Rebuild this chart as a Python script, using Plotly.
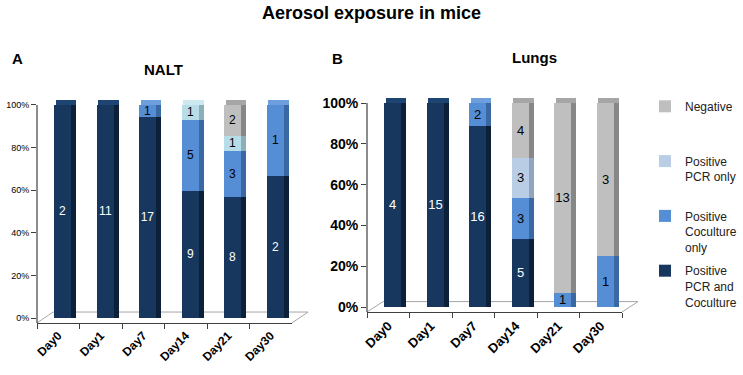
import plotly.graph_objects as go

days = ["Day0", "Day1", "Day7", "Day14", "Day21", "Day30"]
series_names = ["Positive<br>PCR and<br>Coculture", "Positive<br>Coculture<br>only",
                "Positive<br>PCR only<br> ", "Negative<br> <br> "]

# Panel A: NALT (counts)
nalt_pcr_cocult = [2, 11, 17, 9, 8, 2]
nalt_cocult_only = [0, 0, 1, 5, 3, 1]
nalt_pcr_only = [0, 0, 0, 1, 1, 0]
nalt_negative = [0, 0, 0, 0, 2, 0]

# Panel B: Lungs (counts)
lung_pcr_cocult = [4, 15, 16, 5, 0, 0]
lung_cocult_only = [0, 0, 2, 3, 1, 1]
lung_pcr_only = [0, 0, 0, 3, 0, 0]
lung_negative = [0, 0, 0, 4, 13, 3]

tick_vals = [0, 20, 40, 60, 80, 100]
tick_text = ["0%", "20%", "40%", "60%", "80%", "100%"]

face_A = ["#17375E", "#558ED5", "#B7DEE8", "#BFBFBF"]
side_A = ["#0C2038", "#3A68A2", "#8CB0BA", "#878787"]
top_A = ["#1E4472", "#6E9FDC", "#CDE9F0", "#A6A6A6"]
face_B = ["#17375E", "#558ED5", "#B9CDE5", "#BFBFBF"]
side_B = ["#0C2038", "#3A68A2", "#90A5BF", "#878787"]
top_B = ["#1E4472", "#6E9FDC", "#CCDAEC", "#A6A6A6"]
text_col = ["white", "black", "black", "black"]
legend_rank = [4, 3, 2, 1]

FACE_W, FACE_OFF = 0.41, -0.10
SIDE_W, SIDE_OFF = 0.11, 0.31
CAP_H = 2.3
Y_LO, Y_HI = -2.3, 103

fig = go.Figure()


def add_panel(series, xa, ya, face, side, top, show_legend, fsize):
    totals = [sum(s[i] for s in series) for i in range(len(days))]
    pct = [[100.0 * s[i] / totals[i] for i in range(len(days))] for s in series]
    base = [0.0] * len(days)
    top_colors = [None] * len(days)
    for k, p in enumerate(pct):
        txt = [str(series[k][i]) if series[k][i] > 0 else "" for i in range(len(days))]
        fig.add_trace(go.Bar(
            x=days, y=p, base=list(base), xaxis=xa, yaxis=ya,
            width=FACE_W, offset=FACE_OFF,
            marker=dict(color=face[k], line=dict(width=0)),
            text=txt, textposition="inside", insidetextanchor="middle",
            textangle=0, textfont=dict(color=text_col[k], size=fsize,
                                        family="Liberation Sans, Arial"),
            name=series_names[k], legendgroup=series_names[k],
            legendrank=legend_rank[k],
            showlegend=show_legend, hoverinfo="skip",
        ))
        fig.add_trace(go.Bar(
            x=days, y=p, base=list(base), xaxis=xa, yaxis=ya,
            width=SIDE_W, offset=SIDE_OFF,
            marker=dict(color=side[k], line=dict(width=0)),
            showlegend=False, hoverinfo="skip",
        ))
        for i in range(len(days)):
            if series[k][i] > 0:
                top_colors[i] = top[k]
        base = [base[i] + p[i] for i in range(len(days))]
    fig.add_trace(go.Bar(
        x=days, y=[CAP_H] * len(days), base=base, xaxis=xa, yaxis=ya,
        width=FACE_W + SIDE_W - 0.04, offset=FACE_OFF + 0.04,
        marker=dict(color=top_colors, line=dict(width=0)),
        showlegend=False, hoverinfo="skip",
    ))


add_panel([nalt_pcr_cocult, nalt_cocult_only, nalt_pcr_only, nalt_negative],
          "x", "y", face_A, side_A, top_A, False, 12)
add_panel([lung_pcr_cocult, lung_cocult_only, lung_pcr_only, lung_negative],
          "x2", "y2", face_B, side_B, top_B, True, 13)

W, H = 743, 375


def py(p):
    return 1 - p / H


xaxis_common = dict(showgrid=False, zeroline=False, showline=True,
                    linecolor="#404040", linewidth=1.2, ticks="outside",
                    ticklen=5, tickcolor="#404040", type="category",
                    tickson="boundaries", tickangle=-45, automargin=False)
yaxis_common = dict(showgrid=False, zeroline=False, showline=False,
                    ticks="outside", ticklen=5, tickcolor="#404040",
                    range=[Y_LO, Y_HI], tickvals=tick_vals, ticktext=tick_text,
                    automargin=False)

FLOOR_DX, FLOOR_BACK = 0.063, 2.8
shapes = []
for xa, ya in (("x", "y"), ("x2", "y2")):
    floor = dict(xref=xa + " domain", yref=ya, type="line", layer="below",
                 line=dict(color="#A6A6A6", width=1))
    shapes.append(dict(floor, x0=FLOOR_DX, x1=1 + FLOOR_DX,
                       y0=FLOOR_BACK, y1=FLOOR_BACK))
    shapes.append(dict(floor, x0=0, x1=FLOOR_DX, y0=Y_LO, y1=FLOOR_BACK))
    shapes.append(dict(floor, x0=1, x1=1 + FLOOR_DX, y0=Y_LO, y1=FLOOR_BACK))
    shapes.append(dict(type="line", xref=xa + " domain", yref=ya,
                       x0=0, x1=0, y0=Y_LO, y1=100,
                       line=dict(color="#404040", width=1.2)))


def ann(text, x, y, size):
    return dict(text=text, x=x / W, y=py(y), xref="paper", yref="paper",
                xanchor="center", yanchor="middle", showarrow=False,
                font=dict(size=size))


fig.update_layout(
    width=W, height=H,
    margin=dict(l=0, r=0, t=0, b=0, autoexpand=False),
    paper_bgcolor="white", plot_bgcolor="rgba(0,0,0,0)",
    barmode="overlay", bargap=0,
    font=dict(family="Liberation Sans, Arial", color="black"),
    uniformtext=dict(minsize=11, mode="show"),
    xaxis=dict(domain=[37 / W, 292 / W], anchor="y",
               tickfont=dict(size=12, weight="bold"), **xaxis_common),
    yaxis=dict(domain=[py(322.9), py(98.6)], anchor="x",
               tickfont=dict(size=9), **yaxis_common),
    xaxis2=dict(domain=[367 / W, 622 / W], anchor="y2",
                tickfont=dict(size=13, weight="bold"), **xaxis_common),
    yaxis2=dict(domain=[py(312), py(96.9)], anchor="x2",
                tickfont=dict(size=14, weight="bold"), **yaxis_common),
    shapes=shapes,
    legend=dict(x=645 / W, y=py(92), xanchor="left", yanchor="top",
                traceorder="grouped", tracegroupgap=5,
                font=dict(size=12, color="#222"), itemwidth=30,
                valign="top", bgcolor="rgba(0,0,0,0)"),
    annotations=[
        ann("<b>Aerosol exposure in mice</b>", 372, 13, 18),
        ann("<b>A</b>", 17, 58, 15),
        ann("<b>NALT</b>", 163, 70, 15),
        ann("<b>B</b>", 337, 58, 15),
        ann("<b>Lungs</b>", 534, 57, 15),
    ],
)

fig.write_html("out.html",
               config={"displayModeBar": False},
               post_script="document.body.style.margin='0';"
                           "document.body.style.overflow='hidden';")
